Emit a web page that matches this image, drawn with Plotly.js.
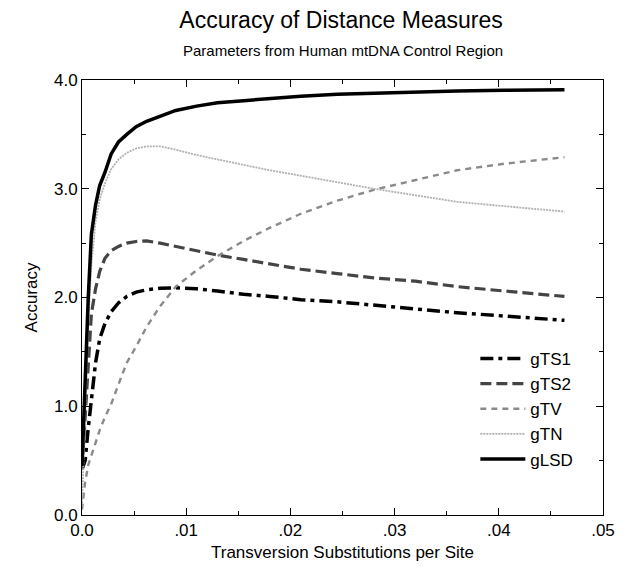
<!DOCTYPE html>
<html>
<head>
<meta charset="utf-8">
<script src="https://cdn.plot.ly/plotly-3.0.1.min.js"></script>
<style>html,body{margin:0;padding:0;background:#fff;}#chart{width:628px;height:573px;}</style>
</head>
<body>
<div id="chart"></div>
<script>
// Shared x values (transversion substitutions per site)
const xSubs = [0, 0.0003, 0.0006, 0.0009, 0.0013, 0.0017, 0.0022, 0.0028, 0.0035, 0.0043, 0.0052, 0.0062, 0.0075, 0.009, 0.011, 0.013, 0.0155, 0.018, 0.021, 0.0245, 0.028, 0.032, 0.036, 0.0405, 0.0463];

const gTS1 = [0.42, 0.50, 0.80, 1.07, 1.40, 1.62, 1.76, 1.87, 1.95, 2.01, 2.05, 2.07, 2.085, 2.09, 2.08, 2.06, 2.03, 2.01, 1.98, 1.96, 1.93, 1.90, 1.86, 1.83, 1.79];
const gTS2 = [0.42, 0.90, 1.35, 1.85, 2.08, 2.24, 2.36, 2.43, 2.47, 2.50, 2.515, 2.52, 2.50, 2.47, 2.43, 2.39, 2.35, 2.31, 2.26, 2.22, 2.18, 2.15, 2.10, 2.06, 2.01];
const gTV  = [0.05, 0.30, 0.46, 0.55, 0.68, 0.78, 0.90, 1.02, 1.20, 1.40, 1.55, 1.73, 1.92, 2.10, 2.25, 2.38, 2.52, 2.64, 2.77, 2.89, 2.99, 3.08, 3.17, 3.23, 3.29];
const gTN  = [0.08, 1.00, 1.75, 2.30, 2.70, 2.90, 3.05, 3.18, 3.27, 3.33, 3.37, 3.39, 3.39, 3.36, 3.31, 3.27, 3.22, 3.17, 3.12, 3.06, 3.00, 2.94, 2.88, 2.84, 2.79];
const gLSD = [0.45, 1.25, 2.00, 2.58, 2.85, 3.03, 3.15, 3.32, 3.43, 3.50, 3.57, 3.62, 3.67, 3.72, 3.76, 3.79, 3.81, 3.83, 3.85, 3.87, 3.88, 3.89, 3.90, 3.905, 3.91];

const xTickVals = [0, 0.01, 0.02, 0.03, 0.04, 0.05];
const xTickText = ["0.0", ".01", ".02", ".03", ".04", ".05"];
const yTickVals = [0, 1, 2, 3, 4];
const yTickText = ["0.0", "1.0", "2.0", "3.0", "4.0"];

const FONT = "Liberation Sans, Arial, Helvetica, sans-serif";

const traces = [
  {name: "gTS1", x: xSubs, y: gTS1, mode: "lines", line: {color: "#000", width: 3.5, dash: "13px,5px,4px,5px"}},
  {name: "gTS2", x: xSubs, y: gTS2, mode: "lines", line: {color: "#444", width: 3.2, dash: "11px,5px"}},
  {name: "gTV",  x: xSubs, y: gTV,  mode: "lines", line: {color: "#8a8a8a", width: 2.4, dash: "6px,5px"}},
  {name: "gTN",  x: xSubs, y: gTN,  mode: "lines", line: {color: "#b0b0b0", width: 1.8, dash: "2px,1px"}},
  {name: "gLSD", x: xSubs, y: gLSD, mode: "lines", line: {color: "#000", width: 3.5}}
];

const layout = {
  width: 628, height: 573,
  margin: {l: 82, r: 25, t: 80, b: 58},
  paper_bgcolor: "#fff", plot_bgcolor: "#fff",
  font: {family: FONT, color: "#000", size: 17},
  title: {text: "Accuracy of Distance Measures", font: {family: FONT, size: 23, color: "#000"}, x: 0.543, xanchor: "center", y: 0.965, yanchor: "middle"},
  annotations: [{text: "Parameters from Human mtDNA Control Region", xref: "paper", yref: "paper", x: 0.5, y: 1.0 + 30/435, xanchor: "center", yanchor: "middle", showarrow: false, font: {family: FONT, size: 15, color: "#000"}}],
  showlegend: true,
  legend: {x: 0.755, y: 0.40, xanchor: "left", yanchor: "top", bgcolor: "rgba(0,0,0,0)", font: {family: FONT, size: 17}, itemwidth: 45, tracegroupgap: 0},
  xaxis: {
    range: [0, 0.05], tickmode: "array", tickvals: xTickVals, ticktext: xTickText,
    ticks: "inside", ticklen: 7, tickcolor: "#000", showline: true, linecolor: "#000", linewidth: 1, mirror: "ticks",
    showgrid: false, zeroline: false,
    minor: {tickmode: "linear", tick0: 0, dtick: 0.005, ticks: "inside", ticklen: 4, tickcolor: "#000", showgrid: false},
    title: {text: "Transversion Substitutions per Site", font: {family: FONT, size: 17}, standoff: 6},
    tickfont: {family: FONT, size: 17}
  },
  yaxis: {
    range: [0, 4], tickmode: "array", tickvals: yTickVals, ticktext: yTickText,
    ticks: "inside", ticklen: 7, tickcolor: "#000", showline: true, linecolor: "#000", linewidth: 1, mirror: "ticks",
    showgrid: false, zeroline: false,
    minor: {tickmode: "linear", tick0: 0, dtick: 0.5, ticks: "inside", ticklen: 4, tickcolor: "#000", showgrid: false},
    title: {text: "Accuracy", font: {family: FONT, size: 17}, standoff: 12},
    tickfont: {family: FONT, size: 17}
  }
};

Plotly.newPlot("chart", traces, layout, {displayModeBar: false, staticPlot: true});
</script>
</body>
</html>
